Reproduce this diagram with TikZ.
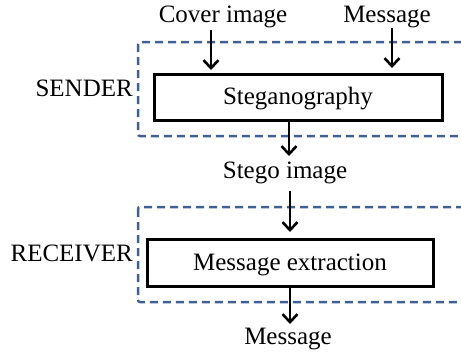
\documentclass[tikz,border=0pt]{standalone}
\usepackage{fontspec}
\setmainfont{Liberation Serif}
\usetikzlibrary{arrows.meta}
\definecolor{dashblue}{RGB}{62,96,150}
\tikzset{
  lbl/.style={font=\fontsize{25}{28}\selectfont, inner sep=0pt},
  stage/.style={draw=black, line width=3pt, fill=white, inner sep=0pt},
  grp/.style={draw=dashblue, line width=2.5pt, dash pattern=on 8pt off 5pt, rounded corners=2pt},
  flow/.style={line width=2.6pt, -{Straight Barb[length=8pt,width=15pt,line width=2.6pt]}}
}
\begin{document}
\begin{tikzpicture}[x=1pt,y=-1pt]
\useasboundingbox (0,0) rectangle (461,354);
\begin{scope}
\clip (0,0) rectangle (461,354);
% dashed group frames (they run past the right edge)
\draw[grp] (138,42) rectangle (475,136);
\draw[grp] (138,207) rectangle (475,302);
\end{scope}
% processing stages
\node[stage, minimum width=288pt, minimum height=46pt] (steg) at (298,97) {};
\node[lbl] at (298,99) {Steganography};
\node[stage, minimum width=286pt, minimum height=47pt] (extr) at (290,262.5) {};
\node[lbl] at (290,265) {Message extraction};
% labels
\node[lbl] (cover) at (223,17) {Cover image};
\node[lbl] (msgin) at (387,17) {Message};
\node[lbl] (stego) at (285,173) {Stego image};
\node[lbl] (msgout) at (288,339) {Message};
\node[lbl, anchor=east] (sender) at (133,88) {SENDER};
\node[lbl, anchor=east] (receiver) at (133,253) {RECEIVER};
% arrow end points
\coordinate (c1) at (211,30);
\coordinate (c2) at (211,70);
\coordinate (m1) at (392,28);
\coordinate (m2) at (392,68);
\coordinate (s1) at (289,120);
\coordinate (s2) at (289,156);
\coordinate (r1) at (290,191);
\coordinate (r2) at (290,232);
\coordinate (o1) at (290,286);
\coordinate (o2) at (290,324);
\draw[flow] (c1) -- (c2);
\draw[flow] (m1) -- (m2);
\draw[flow] (s1) -- (s2);
\draw[flow] (r1) -- (r2);
\draw[flow] (o1) -- (o2);
\end{tikzpicture}
\end{document}
